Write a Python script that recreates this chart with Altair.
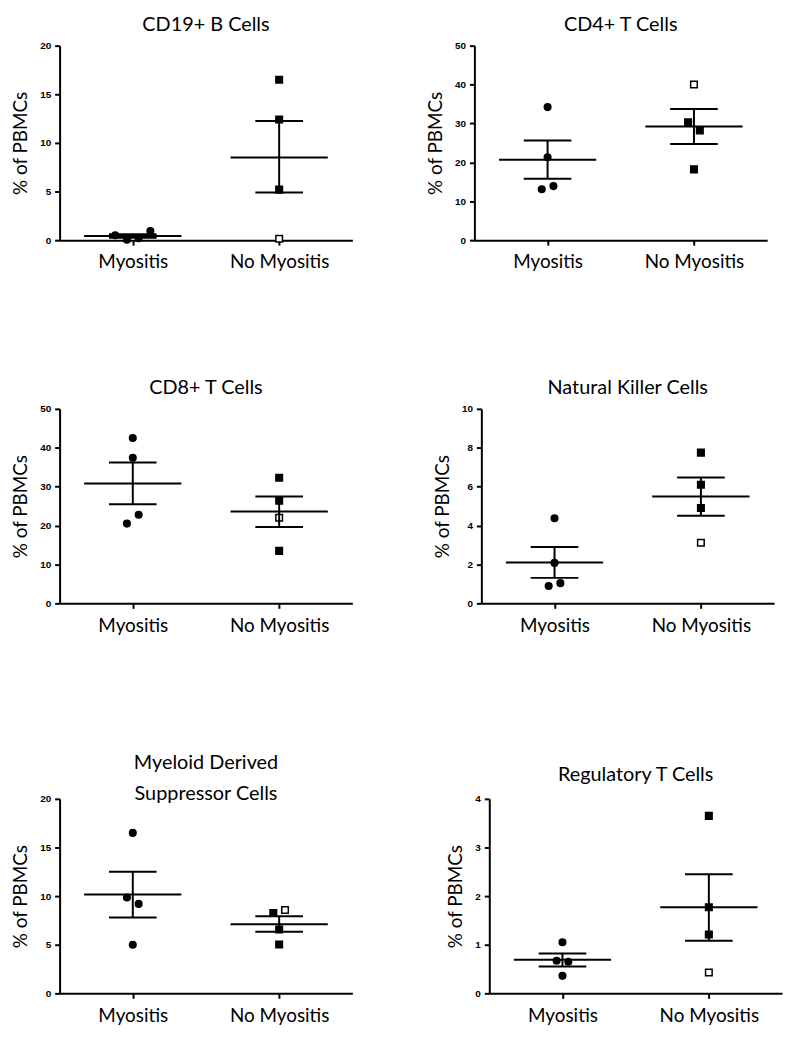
import altair as alt
import pandas as pd

groups = ["Myositis", "No Myositis"]

titles = [
    "CD19+ B Cells",
    "CD4+ T Cells",
    "CD8+ T Cells",
    "Natural Killer Cells",
    ["Myeloid Derived", "Suppressor Cells"],
    "Regulatory T Cells",
]
y_max = [20, 50, 50, 10, 20, 4]
y_step = [5, 10, 10, 2, 5, 1]

# individual values (% of PBMCs) per panel
myo_vals = [
    [0.5, 0.05, 0.2, 0.95],
    [34.2, 21.3, 13.1, 13.9],
    [42.5, 37.4, 22.8, 20.5],
    [4.38, 2.08, 0.89, 1.04],
    [16.5, 9.86, 9.2, 5.0],
    [1.05, 0.67, 0.65, 0.36],
]
no_vals = [
    [16.5, 12.4, 5.2, 0.15],
    [40.0, 30.3, 28.2, 18.2],
    [32.3, 26.4, 22.0, 13.5],
    [7.75, 6.1, 4.9, 3.12],
    [8.27, 8.57, 6.56, 5.03],
    [3.65, 1.77, 1.21, 0.43],
]
# jitter slots (horizontal scatter of overlapping points)
myo_jit = [
    [-3, -1, 1, 3],
    [0, 0, -1, 1],
    [0, 0, 1, -1],
    [0, 0, -1, 1],
    [0, -1, 1, 0],
    [0, -1, 1, 0],
]
no_jit = [
    [0, 0, 0, 0],
    [0, -1, 1, 0],
    [0, 0, 0, 0],
    [0, 0, 0, 0],
    [-1, 1, 0, 0],
    [0, 0, 0, 0],
]
# open (hollow) marker flag for No Myositis points
no_open = [
    [0, 0, 0, 1],
    [1, 0, 0, 0],
    [0, 0, 1, 0],
    [0, 0, 0, 1],
    [0, 1, 0, 0],
    [0, 0, 0, 1],
]
# mean and SEM bounds [Myositis, No Myositis]
means = [[0.43, 8.5], [20.7, 29.2], [30.8, 23.6], [2.1, 5.49], [10.17, 7.1], [0.69, 1.77]]
sem_lo = [[0.25, 4.9], [15.8, 24.7], [25.5, 19.6], [1.31, 4.51], [7.8, 6.33], [0.55, 1.08]]
sem_hi = [[0.62, 12.25], [25.6, 33.7], [36.2, 27.5], [2.9, 6.47], [12.5, 7.93], [0.82, 2.45]]

label_expr = "datum.value == 0 ? '%s' : '%s'" % (groups[0], groups[1])
title_offsets = [6, 6, 6, 6, -10, 9]


def panel(i):
    rows = []
    for v, j in zip(myo_vals[i], myo_jit[i]):
        rows.append({"group": groups[0], "idx": 0, "value": v, "jit": j, "open": 0})
    for v, j, o in zip(no_vals[i], no_jit[i], no_open[i]):
        rows.append({"group": groups[1], "idx": 1, "value": v, "jit": j, "open": o})
    df = pd.DataFrame(rows)
    sdf = pd.DataFrame({"idx": [0, 1], "mean": means[i], "lo": sem_lo[i], "hi": sem_hi[i]})

    xscale = alt.Scale(domain=[-0.5, 1.5], nice=False, zero=False)
    yscale = alt.Scale(domain=[0, y_max[i]], nice=False, zero=True)
    xaxis = alt.Axis(values=[0, 1], labelExpr=label_expr, title=None)
    yaxis = alt.Axis(values=list(range(0, y_max[i] + 1, y_step[i])), title="% of PBMCs")

    def X(f):
        return alt.X(f + ":Q", scale=xscale, axis=xaxis)

    def Y(f):
        return alt.Y(f + ":Q", scale=yscale, axis=yaxis)

    pts = (
        alt.Chart(df)
        .transform_calculate(xpos="datum.idx + datum.jit * 0.04")
        .mark_point(size=44, opacity=1, strokeWidth=1.5)
        .encode(
            x=X("xpos"),
            y=Y("value"),
            shape=alt.Shape("group:N", scale=alt.Scale(domain=groups, range=["circle", "square"]), legend=None),
            fill=alt.condition("datum.open == 1", alt.value("white"), alt.value("black")),
            stroke=alt.value("black"),
        )
    )
    vline = alt.Chart(sdf).mark_rule(color="black", strokeWidth=2).encode(x=X("idx"), y=Y("lo"), y2="hi:Q")
    mean_t = alt.Chart(sdf).mark_tick(orient="horizontal", size=98, thickness=2, color="black", opacity=1).encode(x=X("idx"), y=Y("mean"))
    hi_t = alt.Chart(sdf).mark_tick(orient="horizontal", size=48, thickness=2, color="black", opacity=1).encode(x=X("idx"), y=Y("hi"))
    lo_t = alt.Chart(sdf).mark_tick(orient="horizontal", size=48, thickness=2, color="black", opacity=1).encode(x=X("idx"), y=Y("lo"))

    return alt.layer(pts, vline, mean_t, hi_t, lo_t).properties(
        width=295,
        height=196,
        title=alt.TitleParams(titles[i], offset=title_offsets[i]),
    )


r1 = alt.hconcat(panel(0), panel(1), spacing=74)
r2 = alt.hconcat(panel(2), panel(3), spacing=81)
r3 = alt.hconcat(panel(4), panel(5), spacing=95)

chart = (
    alt.vconcat(alt.vconcat(r1, r2, spacing=107), r3, spacing=119)
    .properties(padding={"left": 3, "top": 3, "right": 4, "bottom": 4}, background="white")
    .configure_view(stroke=None)
    .configure_axis(
        domainColor="black",
        domainWidth=2,
        tickColor="black",
        tickWidth=2,
        tickSize=5,
        labelColor="black",
        titleColor="black",
        grid=False,
    )
    .configure_axisY(
        labelFont="Liberation Sans",
        labelFontWeight="bold",
        labelFontSize=10,
        labelPadding=4,
        titleFont="Lato",
        titleFontSize=19,
        titleFontWeight="normal",
        titlePadding=9,
    )
    .configure_axisX(
        labelFont="Lato",
        labelFontSize=19,
        labelPadding=8,
    )
    .configure_title(
        font="Lato",
        fontSize=20,
        fontWeight="normal",
        color="black",
        anchor="middle",
        frame="group",
        lineHeight=31,
    )
)

chart.save("out.html", embed_options={"renderer": "svg", "actions": False})
